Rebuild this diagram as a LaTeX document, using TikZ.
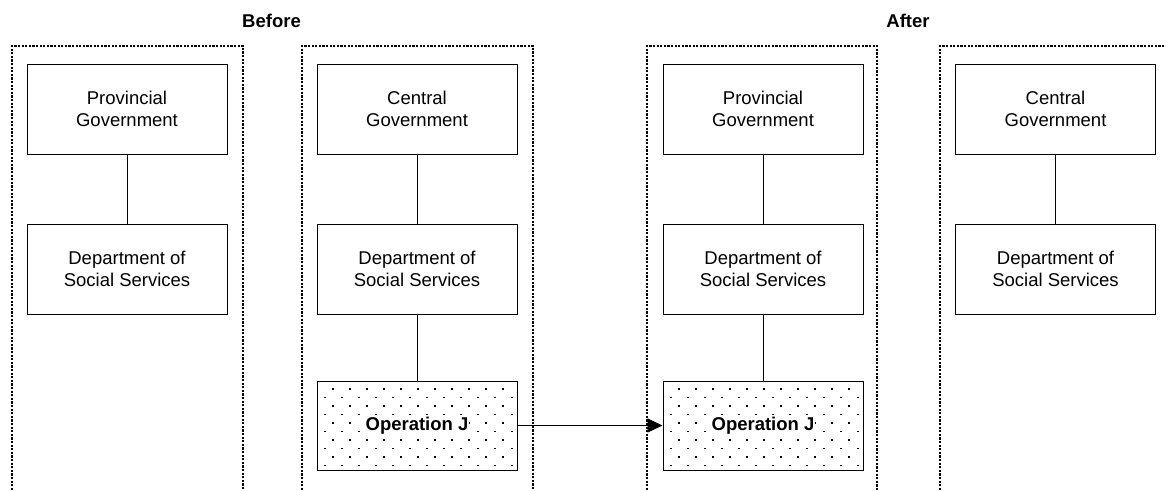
\documentclass[tikz,border=0pt]{standalone}
\usepackage{fontspec}
\setmainfont{Liberation Sans}
\usetikzlibrary{arrows.meta}
\newcommand\opdots[2]{%
  \begin{scope}
    \clip (#1,#2) rectangle ++(200,89);
    \foreach \r in {0,...,9}{
      \pgfmathsetmacro\yy{#2+7+8.5*\r}
      \pgfmathsetmacro\xo{mod(\r,2)==0 ? 15 : 7}
      \foreach \c in {0,...,11}{\fill (#1+\xo+17*\c,\yy) rectangle ++(1.8,1.8);}
    }
  \end{scope}}
\begin{document}
\begin{tikzpicture}[x=1pt,y=-1pt,
  box/.style={draw, line width=1pt, minimum width=200pt, minimum height=90pt,
    align=center, inner sep=0pt, font=\fontsize{18.5}{21.5}\selectfont},
  optext/.style={fill=white, inner sep=1pt, font=\bfseries\fontsize{18.5}{21.5}\selectfont},
  cont/.style={line width=2.6pt, dash pattern=on 2.2pt off 1.4pt},
  link/.style={line width=1pt},
  title/.style={font=\bfseries\fontsize{18.5}{21.5}\selectfont}]
\useasboundingbox (0,0) rectangle (1166,490);
% titles
\node[title] (before) at (271.5,21) {Before};
\node[title] (after) at (908,21) {After};
% containers
\draw[cont] (12,490) -- (12,46) -- (243,46) -- (243,490);
\draw[cont] (302,490) -- (302,46) -- (533,46) -- (533,490);
\draw[cont] (647,490) -- (647,46) -- (877,46) -- (877,490);
\draw[cont] (940,490) -- (940,46) -- (1171,46) -- (1171,490);
% dotted fills
\opdots{317}{381}
\opdots{663}{381}
% boxes
\node[box] (pg1) at (127,109) {Provincial\\Government};
\node[box] (dss1) at (127,269) {Department of\\Social Services};
\node[box] (cg1) at (417,109) {Central\\Government};
\node[box] (dss2) at (417,269) {Department of\\Social Services};
\node[box, minimum height=89pt] (op1) at (417,425.5) {};
\node[optext] (op1t) at (op1.center) {Operation J};
\node[box] (pg2) at (763,109) {Provincial\\Government};
\node[box] (dss3) at (763,269) {Department of\\Social Services};
\node[box, minimum height=89pt] (op2) at (763,425.5) {};
\node[optext] (op2t) at (op2.center) {Operation J};
\node[box] (cg2) at (1055.5,109) {Central\\Government};
\node[box] (dss4) at (1055.5,269) {Department of\\Social Services};
% connectors
\draw[link] (pg1) -- (dss1);
\draw[link] (cg1) -- (dss2);
\draw[link] (dss2) -- (op1);
\draw[link] (pg2) -- (dss3);
\draw[link] (dss3) -- (op2);
\draw[link] (cg2) -- (dss4);
\draw[link, -{Triangle[length=15pt,width=14pt]}] (op1) -- (op2);
\end{tikzpicture}
\end{document}
